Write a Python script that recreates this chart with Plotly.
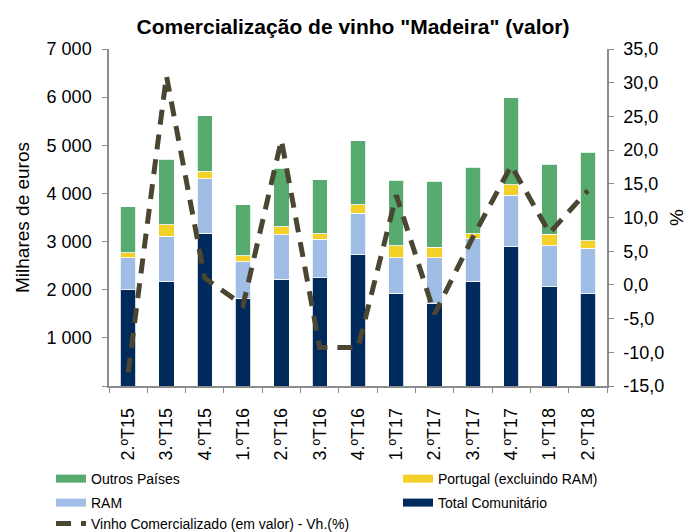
import plotly.graph_objects as go

categories = ["2.ºT15", "3.ºT15", "4.ºT15", "1.ºT16", "2.ºT16", "3.ºT16", "4.ºT16",
              "1.ºT17", "2.ºT17", "3.ºT17", "4.ºT17", "1.ºT18", "2.ºT18"]
total_comunitario = [2000, 2170, 3175, 1820, 2215, 2250, 2730, 1925, 1710, 2175, 2890, 2060, 1915]
ram = [660, 940, 1125, 765, 930, 800, 860, 735, 950, 880, 1070, 855, 945]
portugal = [110, 235, 160, 125, 165, 110, 175, 255, 220, 110, 220, 235, 160]
outros = [955, 1360, 1150, 1055, 1210, 1120, 1325, 1360, 1370, 1380, 1810, 1460, 1840]
vh = [-13.0, 31.0, 1.0, -3.0, 21.5, -9.3, -9.3, 13.3, -4.3, 7.1, 17.7, 7.7, 14.0]

left_ticks = [0, 1000, 2000, 3000, 4000, 5000, 6000, 7000]
left_text = ["", "1 000", "2 000", "3 000", "4 000", "5 000", "6 000", "7 000"]
right_ticks = [-15, -10, -5, 0, 5, 10, 15, 20, 25, 30, 35]
right_text = ["-15,0", "-10,0", "-5,0", "0,0", "5,0", "10,0", "15,0", "20,0", "25,0", "30,0", "35,0"]

font = "Liberation Sans, Arial, sans-serif"
C_OUT, C_POR, C_RAM, C_TC, C_LINE = "#57AB6F", "#F4D128", "#9FBDE5", "#002A5C", "#4B4631"
mline = dict(color="white", width=0.8)
DASH = "15px,10px"

fig = go.Figure()
fig.add_bar(x=categories, y=total_comunitario, name="Total Comunitário",
            marker=dict(color=C_TC, line=mline), showlegend=False)
fig.add_bar(x=categories, y=ram, name="RAM",
            marker=dict(color=C_RAM, line=mline), showlegend=False)
fig.add_bar(x=categories, y=portugal, name="Portugal (excluindo RAM)",
            marker=dict(color=C_POR, line=mline), showlegend=False)
fig.add_bar(x=categories, y=outros, name="Outros Países",
            marker=dict(color=C_OUT, line=mline), showlegend=False)
fig.add_scatter(x=categories, y=vh, yaxis="y2", mode="lines",
                name="Vinho Comercializado (em valor) - Vh.(%)",
                line=dict(color=C_LINE, width=5, dash=DASH), showlegend=False)

# legend swatches (one legend per entry, laid out like the original two-column key)
legend_entries = [
    ("Outros Países", C_OUT, None, "legend"),
    ("Portugal (excluindo RAM)", C_POR, None, "legend2"),
    ("RAM", C_RAM, None, "legend3"),
    ("Total Comunitário", C_TC, None, "legend4"),
    ("Vinho Comercializado (em valor) - Vh.(%)", C_LINE, DASH, "legend5"),
]
for name, color, dash, leg in legend_entries:
    fig.add_scatter(x=[None], y=[None], mode="lines", name=name, legend=leg,
                    line=dict(color=color, width=8 if dash is None else 5, dash=dash),
                    showlegend=True, hoverinfo="skip")

W, H = 692, 532
def leg(xpx, ypx):
    return dict(xref="container", yref="container", x=xpx / W, y=1 - ypx / H,
                xanchor="left", yanchor="middle", orientation="h",
                font=dict(size=14, family=font), bgcolor="rgba(0,0,0,0)",
                itemwidth=30)

fig.update_layout(
    width=W, height=H,
    barmode="stack", bargap=0.6,
    plot_bgcolor="white", paper_bgcolor="white",
    font=dict(family=font, size=18, color="black"),
    margin=dict(l=109, r=85, t=49, b=146, autoexpand=False),
    title=dict(text="<b>Comercialização de vinho \"Madeira\" (valor)</b>",
               xref="container", yref="container",
               x=353 / W, xanchor="center", y=1 - 27 / H, yanchor="middle",
               font=dict(size=21, family=font)),
    xaxis=dict(showline=True, linecolor="#8C8C8C", linewidth=1.5,
               ticks="outside", tickson="boundaries", ticklen=5, tickcolor="#8C8C8C",
               tickangle=-90, tickfont=dict(size=18), ticklabelstandoff=13),
    yaxis=dict(range=[0, 7000], tickvals=left_ticks, ticktext=left_text,
               showline=True, linecolor="#8C8C8C", linewidth=1.5,
               ticks="outside", ticklen=5, tickcolor="#8C8C8C",
               showgrid=False, zeroline=False, ticklabelstandoff=7,
               title=dict(text="Milhares de euros", font=dict(size=19), standoff=12)),
    yaxis2=dict(range=[-15, 35], tickvals=right_ticks, ticktext=right_text,
                overlaying="y", side="right",
                showline=True, linecolor="#8C8C8C", linewidth=1.5,
                ticks="outside", ticklen=5, tickcolor="#8C8C8C",
                showgrid=False, zeroline=False, ticklabelstandoff=6,
                title=dict(text="%", font=dict(size=19), standoff=6)),
    legend=leg(51, 479),
    legend2=leg(398, 479),
    legend3=leg(51, 503),
    legend4=leg(398, 503),
    legend5=leg(51, 524),
)

fig.write_html("out.html", config={"displayModeBar": False},
               post_script="document.body.style.margin='0';document.body.style.overflow='hidden';")
